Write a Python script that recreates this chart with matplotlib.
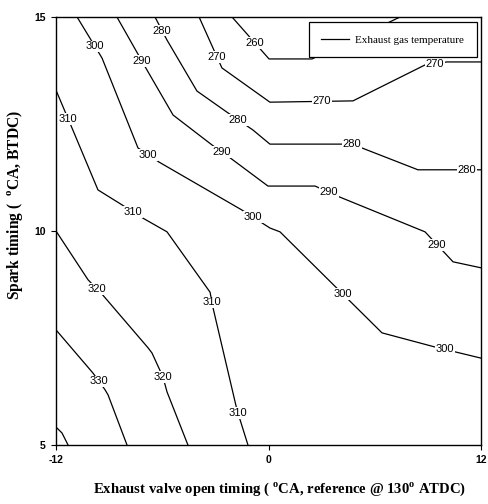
import numpy as np
import matplotlib
matplotlib.use("Agg")
import matplotlib.pyplot as plt

# ---- data: isotherms of exhaust gas temperature (x = EVO timing, y = spark timing)
levels = [260, 270, 280, 290, 300, 310, 320, 330, 340]

iso260_x = [-2.06, 0.03, 2.46, 2.91, 7.43]
iso260_y = [15.00, 14.02, 14.02, 14.11, 15.00]

iso270_x = [-3.92, -2.63, 0.08, 4.77, 8.84, 10.08, 12.00]
iso270_y = [15.00, 13.81, 13.01, 13.04, 13.88, 13.95, 13.95]

iso280_x = [-6.41, -5.73, -4.04, -2.29, -0.88, 0.08, 4.72, 8.44, 12.00]
iso280_y = [15.00, 14.46, 13.27, 12.76, 12.36, 12.03, 12.03, 11.43, 11.43]

iso290_x = [-8.56, -6.86, -5.39, -3.19, -2.17, -0.03, 2.63, 4.04, 8.84, 10.42, 12.00]
iso290_y = [15.00, 13.76, 12.71, 12.01, 11.71, 11.05, 11.05, 10.79, 9.98, 9.28, 9.14]

iso300_x = [-10.81, -9.40, -7.37, -6.18, -1.50, 0.08, 0.65, 6.41, 9.40, 12.00]
iso300_y = [15.00, 14.04, 11.94, 11.61, 10.49, 10.07, 9.98, 7.62, 7.29, 7.03]

iso310_x = [-12.00, -11.10, -9.63, -8.27, -7.09, -5.73, -3.30, -3.13, -1.78, -1.16]
iso310_y = [13.29, 12.41, 10.96, 10.61, 10.30, 9.98, 8.57, 8.20, 5.82, 5.00]

iso320_x = [-12.00, -10.19, -9.35, -6.80, -6.58, -5.96, -5.73, -4.55]
iso320_y = [10.00, 8.86, 8.50, 7.27, 7.15, 6.59, 6.24, 5.00]

iso330_x = [-12.00, -9.91, -9.23, -9.06, -7.99]
iso330_y = [7.69, 6.68, 6.29, 6.17, 5.00]

iso340_x = [-12.00, -11.66, -11.32]
iso340_y = [5.42, 5.28, 5.00]

iso_x = [iso260_x, iso270_x, iso280_x, iso290_x, iso300_x,
         iso310_x, iso320_x, iso330_x, iso340_x]
iso_y = [iso260_y, iso270_y, iso280_y, iso290_y, iso300_y,
         iso310_y, iso320_y, iso330_y, iso340_y]

x_ticks = [-12, 0, 12]
y_ticks = [5, 10, 15]

# ---- layout: where the inline level labels sit (x position along each isotherm)
label_x = {
    260: [-0.76],
    270: [-2.91, 3.02, 9.40],
    280: [-6.01, -1.72, 4.72, 11.21],
    290: [-7.14, -2.63, 3.42, 9.52],
    300: [-9.80, -6.80, -0.88, 4.21, 9.97],
    310: [-11.32, -7.65, -3.19, -1.72],
    320: [-9.68, -5.96],
    330: [-9.57],
    340: [],
}

fig = plt.figure(figsize=(4.89, 5.04), dpi=100)
ax = fig.add_axes([56 / 489, 59 / 504, 425 / 489, 428 / 504])

for i, (lv, xs, ys) in enumerate(zip(levels, iso_x, iso_y)):
    ax.plot(xs, ys, color="black", lw=0.9, zorder=2,
            label="Exhaust gas temperature" if i == 0 else None)
    for lx in label_x[lv]:
        ly = np.interp(lx, xs, ys)
        ax.text(lx, ly, str(lv), ha="center", va="center", fontsize=8,
                family="Liberation Sans", zorder=3,
                bbox=dict(boxstyle="square,pad=0.08", fc="white", ec="none"))

ax.set_xlim(-12, 12)
ax.set_ylim(5, 15)
ax.set_xticks(x_ticks)
ax.set_yticks(y_ticks)
ax.set_xticklabels([str(t) for t in x_ticks], family="Liberation Sans",
                   fontsize=7.5, fontweight="bold")
ax.set_yticklabels([str(t) for t in y_ticks], family="Liberation Sans",
                   fontsize=7.5, fontweight="bold")
ax.tick_params(direction="out", length=3.5, width=0.8, colors="black", pad=4)
for s in ax.spines.values():
    s.set_linewidth(1.0)

ax.set_xlabel("Exhaust valve open timing ( $^{\\mathregular{o}}$CA, reference @ 130$^{\\mathregular{o}}$ ATDC)",
              family="Liberation Serif", fontweight="bold", fontsize=10.6)
ax.set_ylabel("Spark timing (  $^{\\mathregular{o}}$CA, BTDC)",
              family="Liberation Serif", fontweight="bold", fontsize=11.2)
ax.xaxis.set_label_coords(0.527, -0.103)
ax.yaxis.set_label_coords(-0.097, 0.56)
ax.xaxis.label.set_va("center")
ax.yaxis.label.set_va("center")

leg = ax.legend(loc="upper right", bbox_to_anchor=(0.9906, 0.988), borderaxespad=0,
                prop={"family": "Liberation Serif", "size": 8},
                fancybox=False, framealpha=1, edgecolor="black",
                handlelength=2.5, handletextpad=0.55, borderpad=1.15)
leg.get_frame().set_linewidth(0.9)
leg.set_zorder(5)

fig.savefig("out.png", dpi=100)
